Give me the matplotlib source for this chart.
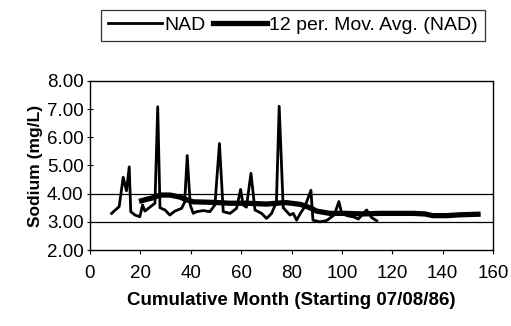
import matplotlib.pyplot as plt

# ---- data ----
nad_month = [8.6, 11.6, 13.2, 14.5, 15.6, 16.2, 17.9, 19.8, 20.9, 21.8, 23.5, 25.8,
             26.9, 27.8, 29.8, 31.7, 33.7, 36.4, 37.6, 38.6, 39.8, 41.0, 42.3, 45.0,
             47.6, 49.6, 51.4, 52.9, 55.6, 58.2, 59.8, 60.8, 62.1, 63.9, 65.5, 68.1,
             70.1, 72.1, 74.0, 75.1, 76.7, 79.4, 80.7, 82.0, 83.5, 85.3, 87.7, 88.5,
             91.3, 94.0, 97.0, 98.8, 99.9, 102.0, 104.8, 106.5, 109.8, 111.8, 113.8]
nad_sodium = [3.30, 3.54, 4.58, 4.10, 4.95, 3.36, 3.24, 3.18, 3.60, 3.38, 3.50, 3.66,
              7.08, 3.50, 3.42, 3.24, 3.38, 3.48, 3.70, 5.35, 3.60, 3.30, 3.36, 3.40,
              3.36, 3.60, 5.78, 3.36, 3.30, 3.48, 4.15, 3.60, 3.52, 4.72, 3.42, 3.30,
              3.12, 3.30, 3.70, 7.10, 3.50, 3.24, 3.30, 3.06, 3.30, 3.54, 4.12, 3.06,
              3.00, 3.05, 3.25, 3.72, 3.30, 3.22, 3.17, 3.10, 3.42, 3.15, 3.04]

avg_month = [20.5, 22.5, 24.5, 27.8, 31.7, 35.7, 38.4, 41.0, 49.0, 55.6, 62.2, 70.0,
             75.3, 78.0, 83.5, 87.3, 90.0, 95.2, 101.8, 108.5, 115.0, 128.3, 133.0,
             136.0, 141.6, 146.9, 154.0]
avg_sodium = [3.75, 3.80, 3.84, 3.95, 3.95, 3.88, 3.78, 3.71, 3.69, 3.66, 3.66, 3.63,
              3.67, 3.68, 3.62, 3.50, 3.38, 3.30, 3.30, 3.28, 3.30, 3.30, 3.28,
              3.22, 3.22, 3.25, 3.27]

y_ticks = [2, 3, 4, 5, 6, 7, 8]
x_ticks = [0, 20, 40, 60, 80, 100, 120, 140, 160]

plt.rcParams['font.family'] = ['Liberation Sans', 'DejaVu Sans']

fig = plt.figure(figsize=(5.11, 3.26), dpi=100)
ax = fig.add_axes([0.176, 0.233, 0.789, 0.519])

# reference lines at 3 and 4 mg/L
ax.axhline(4, color='black', lw=0.9)
ax.axhline(3, color='black', lw=0.9)

ax.plot(nad_month, nad_sodium, color='black', lw=2.0, label='NAD')
ax.plot(avg_month, avg_sodium, color='black', lw=3.8, label='12 per. Mov. Avg. (NAD)')

ax.set_xlim(0, 160)
ax.set_ylim(2, 8)
ax.set_xticks(x_ticks)
ax.set_yticks(y_ticks)
ax.set_yticklabels([f"{v:.2f}" for v in y_ticks])
ax.tick_params(axis='both', direction='inout', length=5, width=0.8, labelsize=13.5)
ax.tick_params(axis='y', pad=2)
ax.tick_params(axis='x', direction='out', length=3, pad=8)

for side in ['left', 'bottom']:
    ax.spines[side].set_linewidth(1.0)
for side in ['top', 'right']:
    ax.spines[side].set_linestyle((0, (1, 1)))
    ax.spines[side].set_linewidth(1.0)

ax.set_xlabel('Cumulative Month (Starting 07/08/86)', fontsize=13.5,
              fontweight='bold', labelpad=7)
ax.set_ylabel('Sodium (mg/L)', fontsize=12.5, fontweight='bold', labelpad=3)

leg = fig.legend(loc='center', bbox_to_anchor=(0.573, 0.922), ncol=2,
                 fontsize=14, frameon=True, fancybox=False, edgecolor='black',
                 handlelength=2.8, handletextpad=0.1, columnspacing=0.4,
                 borderpad=0.35)
leg.get_frame().set_linewidth(0.9)

fig.savefig('out.png', dpi=100)
